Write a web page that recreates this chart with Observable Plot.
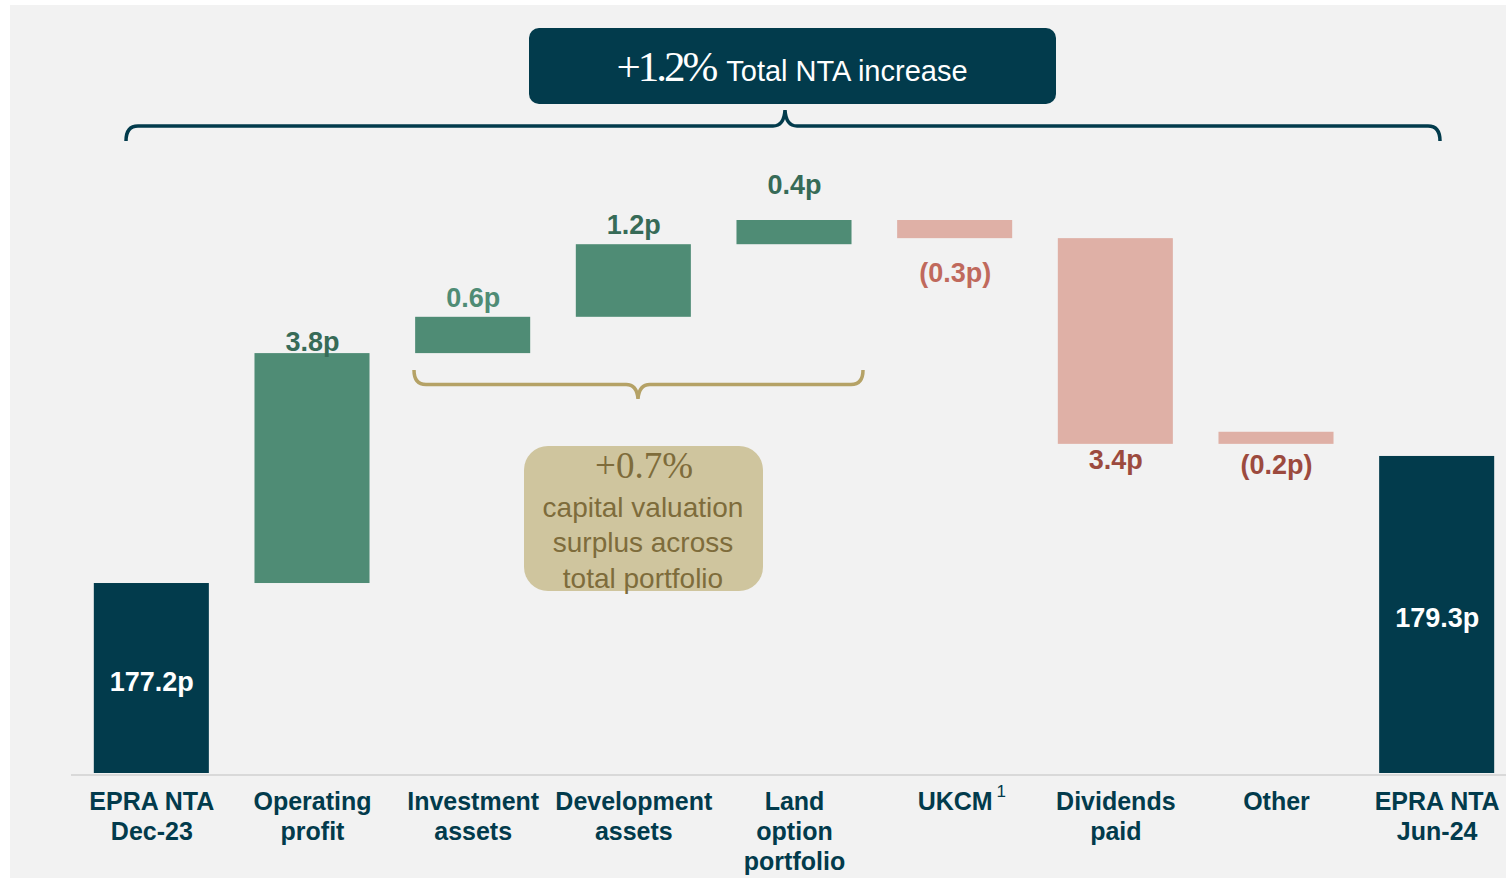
<!DOCTYPE html>
<html><head><meta charset="utf-8">
<script src="https://cdn.jsdelivr.net/npm/d3@7"></script>
<script src="https://cdn.jsdelivr.net/npm/@observablehq/plot@0.6"></script>
<style>
body{margin:0;background:#fff;}
#bg{position:absolute;left:10px;top:5px;width:1496px;height:873px;background:#f2f2f2;}
#chart{position:absolute;left:0;top:0;}
</style></head><body><div id="bg"></div><div id="chart"></div>
<script>
// ---- data ----
const categories = ["EPRA NTA\nDec-23","Operating\nprofit","Investment\nassets","Development\nassets","Land\noption\nportfolio","UKCM","Dividends\npaid","Other","EPRA NTA\nJun-24"];
const kinds = ["total","up","up","up","up","down","down","down","total"];
const values = [177.2, 3.8, 0.6, 1.2, 0.4, -0.3, -3.4, -0.2, 179.3];
const valueLabels = ["177.2p","3.8p","0.6p","1.2p","0.4p","(0.3p)","3.4p","(0.2p)","179.3p"];
const axisFloor = 174.06;
// the "Other" bar as drawn in the source (it sits just above the Dividends bar bottom)
const otherDrawnSpan = [179.7, 179.5];
const footnoteMark = "1";
const headline = ["+1.2%", "Total NTA increase"];
const subhead = ["+0.7%", "capital valuation", "surplus across", "total portfolio"];

// ---- styles ----
const SANS = "'Liberation Sans', Arial, Helvetica, sans-serif";
const SERIF = "'Liberation Serif', 'Times New Roman', serif";
const C = {total:"#023b4c", up:"#4f8c75", down:"#dfb0a6"};
const labelFill = ["#ffffff","#376b57","#4f8c75","#376b57","#376b57","#c0695c","#9c4a3e","#9c4a3e","#ffffff"];
const labelDy = [3.5,-3,-10,-11,-27,24,5,10,3.5];

let run = 0;
const rows = categories.map((c,i)=>{
  let y1,y2;
  if(kinds[i]==="total"){ y1=axisFloor; y2=values[i]; run=values[i]; }
  else { y1=run; y2=run+values[i]; run=y2; }
  if(c==="Other"){ [y1,y2] = otherDrawnSpan; }
  return {cat:c, kind:kinds[i], y1, y2, lo:Math.min(y1,y2), hi:Math.max(y1,y2), label:valueLabels[i], i};
});
const yMax = d3.max(rows, d=>d.hi);

const labelMark = (filterFn, anchor, yFn) => rows.filter(filterFn).map(d => Plot.text([d], {
  x:"cat", y:yFn, text:"label", lineAnchor:anchor, dy:labelDy[d.i],
  fill:labelFill[d.i], fontSize:27, fontWeight:"bold", fontFamily:SANS
}));

const plot = Plot.plot({
  width:1506, height:878,
  marginLeft:71, marginRight:0, marginTop:0, marginBottom:105,
  style:{background:"transparent", overflow:"visible"},
  x:{domain:categories, range:[71,1517], paddingInner:0.284, paddingOuter:0.142, round:false, axis:null},
  y:{domain:[axisFloor, yMax], range:[773,220], axis:null},
  marks:[
    Plot.ruleY([axisFloor], {stroke:"#d9d9d9", strokeWidth:2, dy:1.5}),
    ...["total","up","down"].map(k => Plot.barY(rows.filter(d=>d.kind===k), {x:"cat", y1:"lo", y2:"hi", fill:C[k]})),
    ...labelMark(d=>d.kind==="total","middle", d=>(d.y1+d.y2)/2),
    ...labelMark(d=>d.kind==="up","bottom","hi"),
    ...labelMark(d=>d.kind==="down","top","lo"),
    Plot.text(rows, {x:"cat", y:axisFloor, text:"cat", lineAnchor:"top", dy:15, lineHeight:1.21,
      fontSize:25, fontWeight:"bold", fill:"#023b4c", fontFamily:SANS}),
    Plot.text([rows[5]], {x:"cat", y:axisFloor, text:()=>footnoteMark, lineAnchor:"top", dx:46, dy:11,
      fontSize:17, fill:"#023b4c", fontFamily:SANS})
  ]
});
document.getElementById("chart").appendChild(plot);

// ---- annotations (braces and callout boxes) ----
const svg = d3.select(plot);
const g = svg.append("g");
function brace(L, R, yLine, yEnd, tip, yTip, color, w){
  const r = 12;
  const p = `M${L},${yEnd} Q${L},${yLine} ${L+r},${yLine} L${tip-r},${yLine} Q${tip-1},${yLine} ${tip},${yTip}` +
            ` Q${tip+1},${yLine} ${tip+r},${yLine} L${R-r},${yLine} Q${R},${yLine} ${R},${yEnd}`;
  g.append("path").attr("d",p).attr("fill","none").attr("stroke",color).attr("stroke-width",w);
}
brace(126, 1440, 126, 141, 785, 110, "#023b4c", 3.5);
brace(414, 863, 384.5, 370, 638, 399, "#b5a266", 3.5);

g.append("rect").attr("x",529).attr("y",28).attr("width",527).attr("height",76).attr("rx",10).attr("fill","#023b4c");
const t1 = g.append("text").attr("x",792).attr("y",81).attr("text-anchor","middle").attr("fill","#fff");
t1.append("tspan").attr("font-family",SERIF).attr("font-size",43).attr("letter-spacing",-3).text(headline[0]);
t1.append("tspan").attr("font-family",SANS).attr("font-size",29).attr("dx",11).text(headline[1]);

g.append("rect").attr("x",524).attr("y",446).attr("width",239).attr("height",145).attr("rx",24).attr("fill","#cfc59e");
g.append("text").attr("x",644).attr("y",478).attr("text-anchor","middle").attr("fill","#7e6c3b")
  .attr("font-family",SERIF).attr("font-size",37).text(subhead[0]);
[517,552,588].forEach((y,k)=>{
  g.append("text").attr("x",643).attr("y",y).attr("text-anchor","middle").attr("fill","#7e6c3b")
    .attr("font-family",SANS).attr("font-size",28).text(subhead[k+1]);
});
</script></body></html>
